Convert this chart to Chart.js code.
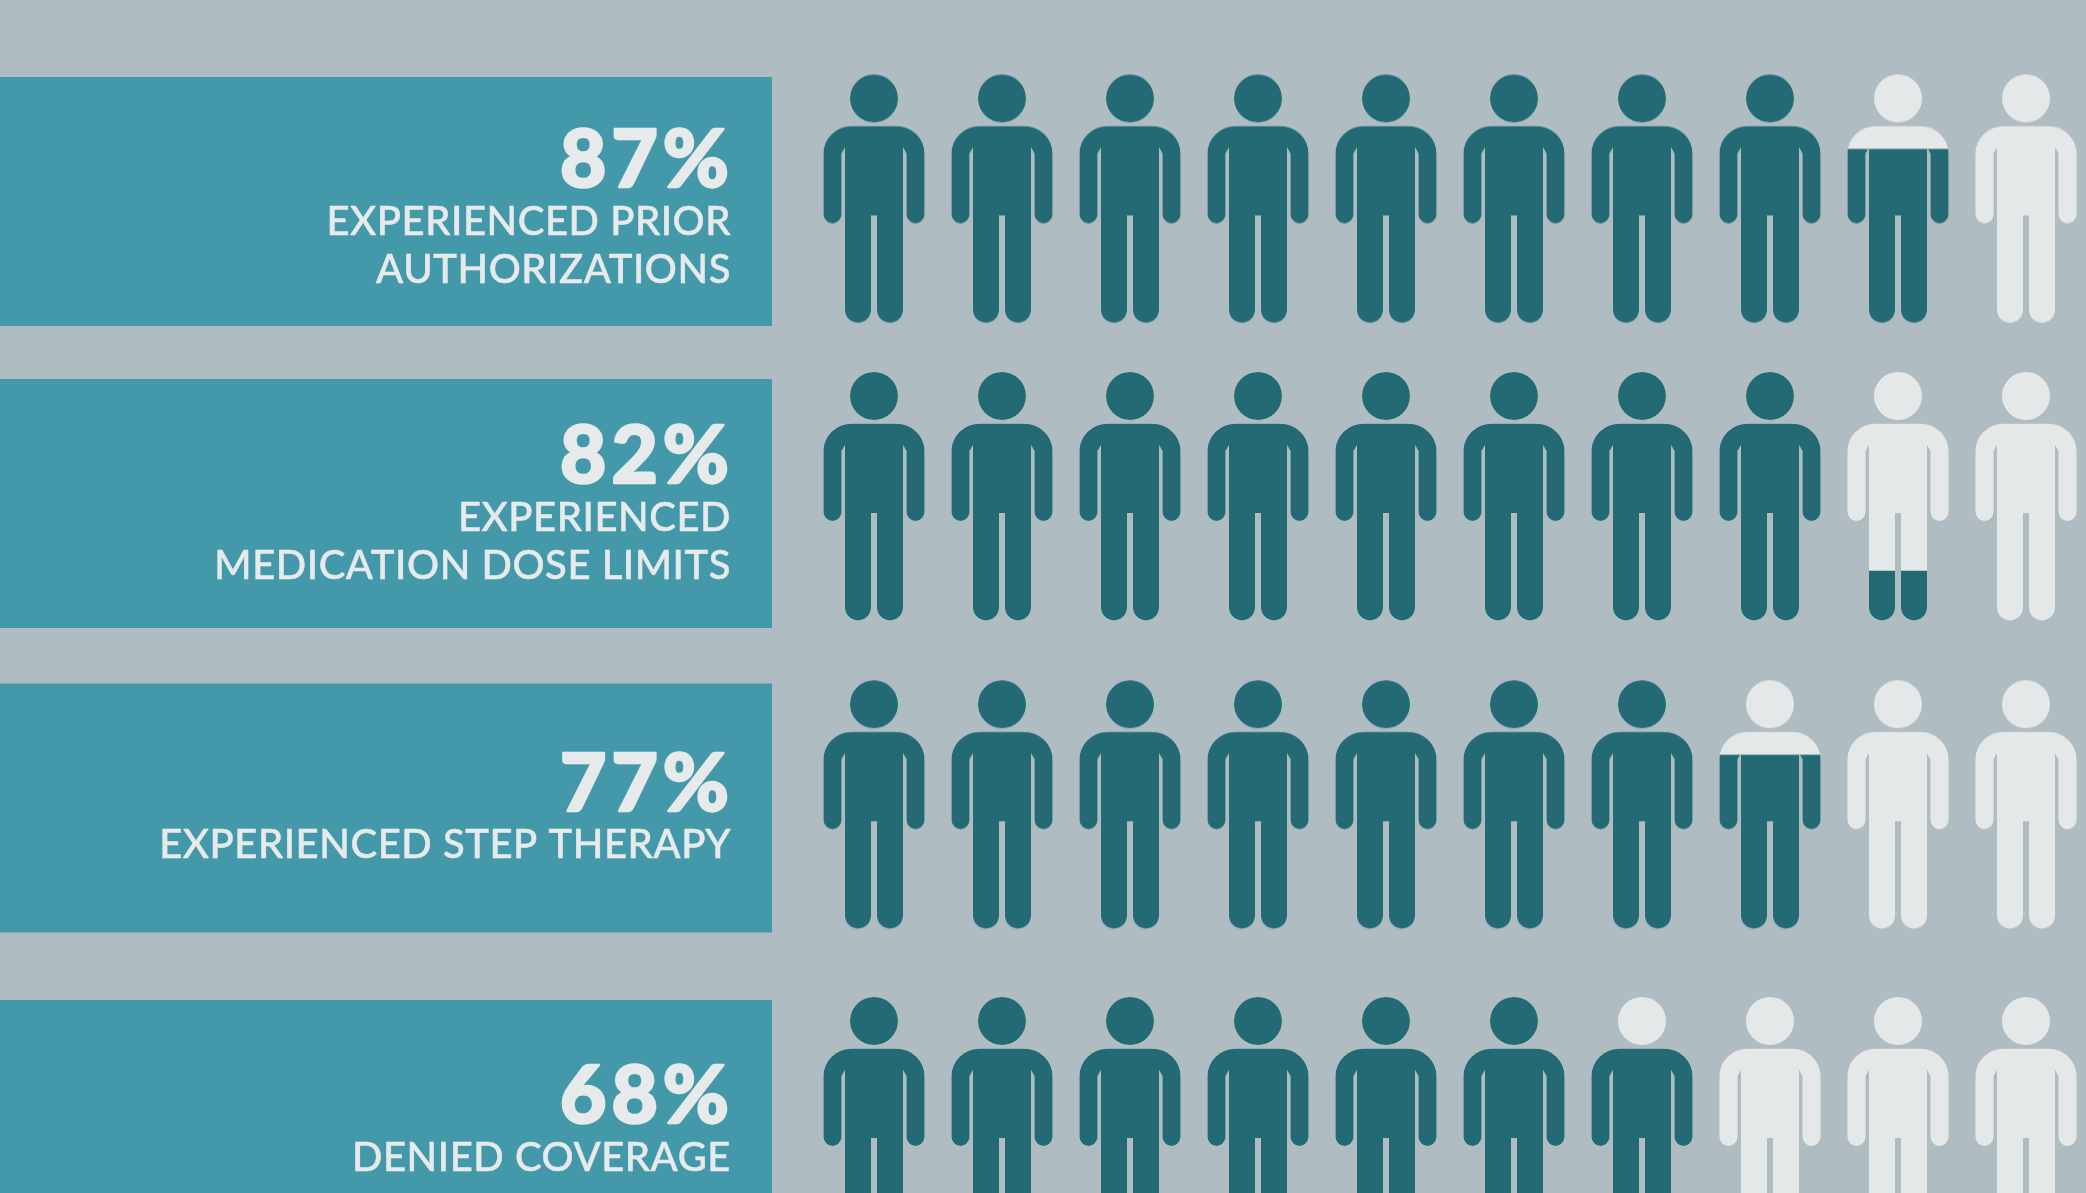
<!DOCTYPE html>
<html>
<head>
<meta charset="utf-8">
<title>Utilization management experience</title>
<style>
  html, body { margin: 0; padding: 0; background: #afbcc2; overflow: hidden; }
  #wrap { position: absolute; left: 0; top: 0; width: 2086px; height: 1193px; }
</style>
<script src="https://cdn.jsdelivr.net/npm/chart.js@4"></script>
</head>
<body>
<div id="wrap"><canvas id="chart" width="2086" height="1193"></canvas></div>
<script>
// Share of respondents per row, in percent
const percents = [87, 82, 77, 68];
const percentLabels = ['87%', '82%', '77%', '68%'];
const captionLines = [
  ['EXPERIENCED PRIOR', 'AUTHORIZATIONS'],
  ['EXPERIENCED', 'MEDICATION DOSE LIMITS'],
  ['EXPERIENCED STEP THERAPY'],
  ['DENIED COVERAGE']
];

// One figure stands for ten percent
const FIGURES_PER_ROW = 10;
const PERCENT_PER_FIGURE = 10;

// Vertical layout, in y-scale units
const rowCentres = [198.4, 496, 804.2, 1121];
const panelTops = [77, 379, 683.5, 1000];
const panelBottoms = [326, 628, 932.5, 1249];
const figureLeft = -874 / 128;
const figureRight = (2086 - 874) / 128;
const percentBaselines = [187, 483, 811, 1123];
const captionBaselines = [[234.5, 282.5], [531, 579], [858], [1170.5]];
const PANEL_RIGHT = 772;
const TEXT_RIGHT = 731;

const COLORS = {
  panel: '#4399aa',
  filled: '#236a75',
  empty: '#e4e8e9',
  text: '#e6eaeb'
};

// Outline of one figure, with x measured from its centre line and y from the top of the head
function figurePath() {
  const p = new Path2D();
  p.arc(0, 24, 24, 0, Math.PI * 2);
  p.closePath();
  p.moveTo(-22.5, 51.7);
  p.lineTo(22.5, 51.7);
  p.ellipse(22.5, 79, 28, 27.3, 0, -Math.PI / 2, 0);
  p.lineTo(50.5, 140);
  p.arc(41.5, 140, 9, 0, Math.PI);
  p.lineTo(32.5, 79);
  p.lineTo(29, 73);
  p.lineTo(29, 235.4);
  p.arc(16, 235.4, 13, 0, Math.PI);
  p.lineTo(3, 141);
  p.lineTo(-3, 141);
  p.lineTo(-3, 235.4);
  p.arc(-16, 235.4, 13, 0, Math.PI);
  p.lineTo(-29, 73);
  p.lineTo(-32.5, 79);
  p.lineTo(-32.5, 140);
  p.arc(-41.5, 140, 9, 0, Math.PI);
  p.lineTo(-50.5, 79);
  p.ellipse(-22.5, 79, 28, 27.3, 0, Math.PI, Math.PI * 1.5);
  p.closePath();
  return p;
}

// Builds a point image of the figure, filled from the feet up by the given fraction
function figureImage(fraction) {
  const W = 110, H = 252, TOP = 2, FIG_H = 248.4;
  const c = document.createElement('canvas');
  c.width = W;
  c.height = H;
  const g = c.getContext('2d');
  g.translate(W / 2, TOP);
  const path = figurePath();
  g.fillStyle = COLORS.empty;
  g.fill(path);
  if (fraction > 0) {
    g.save();
    g.beginPath();
    g.rect(-W / 2, FIG_H * (1 - fraction), W, FIG_H * fraction + TOP);
    g.clip();
    g.fillStyle = COLORS.filled;
    g.fill(path);
    g.restore();
  }
  return c;
}

const fillFractions = percents.map(v =>
  Array.from({ length: FIGURES_PER_ROW }, (_, i) =>
    Math.max(0, Math.min(1, v / PERCENT_PER_FIGURE - i))));

const datasets = percents.map((v, r) => ({
  label: percentLabels[r],
  data: fillFractions[r].map((_, i) => ({ x: i, y: rowCentres[r] })),
  pointStyle: fillFractions[r].map(figureImage),
  pointRadius: 60,
  clip: false,
  showLine: false
}));

// Teal panels and their right-aligned captions sit behind the figures
const panelPlugin = {
  id: 'panels',
  beforeDatasetsDraw(chart) {
    const { ctx, scales: { y } } = chart;
    ctx.save();
    percents.forEach((_, r) => {
      const top = y.getPixelForValue(panelTops[r]);
      const bottom = y.getPixelForValue(panelBottoms[r]);
      ctx.fillStyle = COLORS.panel;
      ctx.fillRect(0, top, PANEL_RIGHT, bottom - top);

      ctx.fillStyle = COLORS.text;
      ctx.strokeStyle = COLORS.text;
      ctx.textAlign = 'right';
      ctx.textBaseline = 'alphabetic';
      ctx.lineJoin = 'round';

      // The headline figure is thickened a little beyond the heaviest face available
      const py = y.getPixelForValue(percentBaselines[r]);
      ctx.font = '900 80px Lato';
      ctx.letterSpacing = '5px';
      ctx.lineWidth = 2.5;
      ctx.strokeText(percentLabels[r], TEXT_RIGHT + 3, py);
      ctx.fillText(percentLabels[r], TEXT_RIGHT + 3, py);

      ctx.font = '500 40px Lato';
      ctx.letterSpacing = '0.55px';
      ctx.lineWidth = 0.5;
      captionLines[r].forEach((line, l) => {
        const ly = y.getPixelForValue(captionBaselines[r][l]);
        ctx.strokeText(line, TEXT_RIGHT, ly);
        ctx.fillText(line, TEXT_RIGHT, ly);
      });
    });
    ctx.restore();
  }
};

Promise.all([document.fonts.load('900 80px Lato'), document.fonts.load('500 40px Lato')]).finally(() => {
  new Chart(document.getElementById('chart'), {
    type: 'scatter',
    data: { datasets },
    plugins: [panelPlugin],
    options: {
      responsive: false,
      animation: false,
      devicePixelRatio: 1,
      layout: { padding: 0, autoPadding: false },
      plugins: { legend: { display: false }, tooltip: { enabled: false } },
      scales: {
        x: { type: 'linear', display: false, min: figureLeft, max: figureRight },
        y: { type: 'linear', display: false, min: 0, max: 1193, reverse: true }
      }
    }
  });
});
</script>
</body>
</html>
